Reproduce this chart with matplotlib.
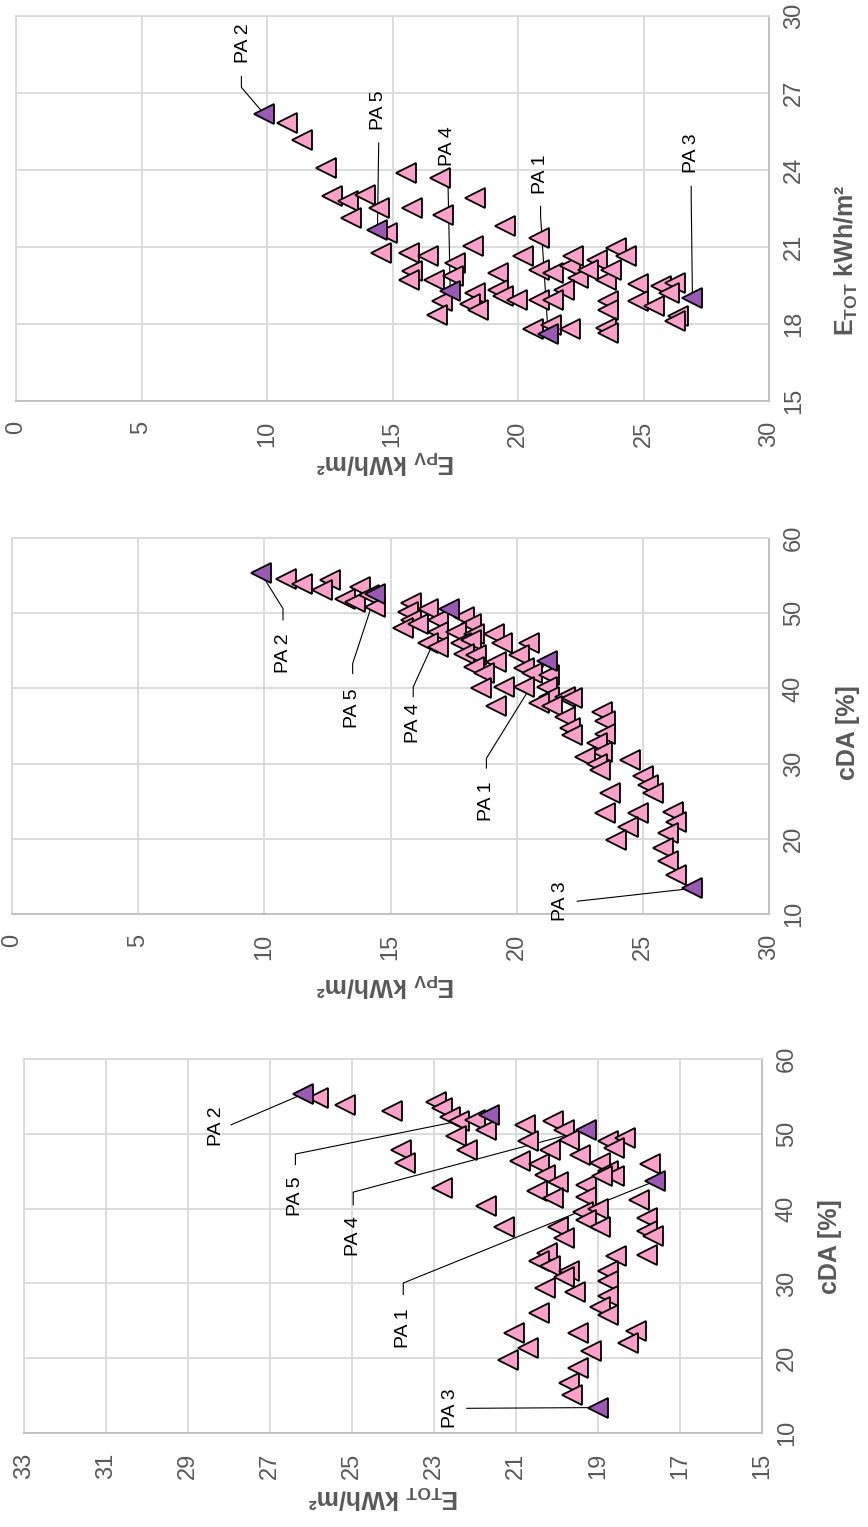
import matplotlib
matplotlib.use("Agg")
import matplotlib.pyplot as plt

# ---- data ----
pa_names = ["PA 1", "PA 2", "PA 3", "PA 4", "PA 5"]
pa_cda = [43.7, 55.3, 13.4, 50.5, 52.5]
pa_etot = [17.6, 26.2, 19.0, 19.3, 21.67]
pa_epv = [21.2, 9.87, 26.95, 17.3, 14.4]

# panel 1: E_TOT vs cDA
p1_etot = [25.84, 25.17, 24.02, 22.94, 22.8, 22.6, 22.4, 22.0, 21.73, 22.47, 22.2, 23.8,
           23.7, 22.8, 21.73, 21.3, 20.78, 20.1, 19.83, 20.7, 19.7, 20.17, 19.43, 18.76,
           18.35, 18.6, 20.9, 20.44, 20.3, 19.97, 18.96, 18.76, 18.6, 17.74, 20.5, 20.1,
           19.3, 19.3, 18.9, 18.0, 19.36, 19.0, 19.3, 18.96, 17.8, 17.8, 17.67, 19.97,
           19.83, 17.8, 18.55, 20.24, 20.44, 20.17, 19.7, 19.83, 19.56, 20.3, 18.76, 18.76,
           18.76, 18.96, 18.76, 20.44, 21.05, 20.7, 21.2, 19.5, 19.16, 19.5, 19.7, 19.63,
           18.08, 18.28]
p1_cda = [54.8, 53.8, 53.1, 54.3, 53.4, 52.3, 51.7, 51.9, 50.55, 49.66, 47.9, 47.9,
          46.1, 42.75, 40.3, 37.6, 51.2, 51.7, 50.55, 49.0, 49.2, 47.9, 47.2, 49.0,
          49.4, 48.1, 46.4, 45.9, 44.5, 43.6, 46.1, 45.0, 44.3, 45.9, 42.3, 41.4,
          43.2, 41.6, 44.3, 41.2, 39.6, 39.9, 38.5, 37.6, 38.7, 37.0, 36.3, 37.6,
          36.1, 33.8, 33.6, 34.1, 32.95, 32.3, 31.6, 30.9, 28.9, 29.4, 31.6, 30.3,
          28.3, 26.9, 25.8, 26.0, 23.4, 21.4, 19.8, 23.4, 20.9, 18.7, 16.7, 15.1,
          23.6, 22.0]

# panel 2: E_PV vs cDA
p2_epv = [10.85, 11.5, 12.6, 12.3, 13.8, 13.2, 13.6, 14.15, 14.4, 15.8, 15.7, 16.5,
          15.8, 15.5, 16.1, 16.9, 16.9, 17.9, 18.2, 17.6, 18.3, 16.5, 16.9, 17.8,
          18.2, 19.1, 19.4, 20.5, 17.9, 18.4, 19.2, 20.1, 18.3, 18.7, 20.3, 20.6,
          21.3, 19.5, 18.6, 20.3, 21.2, 21.3, 21.9, 22.2, 20.9, 21.4, 19.2, 21.9,
          23.4, 23.5, 22.1, 22.2, 23.5, 23.2, 23.4, 22.7, 23.2, 23.3, 24.5, 25.0,
          25.2, 25.4, 23.7, 23.5, 24.8, 24.4, 23.95, 26.2, 26.3, 26.0, 25.8, 26.0,
          26.3]
p2_cda = [54.6, 53.9, 54.4, 53.05, 53.5, 51.9, 51.5, 52.4, 50.8, 51.3, 50.2, 50.6,
          49.1, 48.0, 48.6, 49.1, 47.5, 49.5, 48.6, 47.5, 47.3, 46.0, 45.5, 46.0,
          46.4, 47.3, 46.0, 46.0, 44.6, 44.4, 43.5, 44.4, 42.9, 42.0, 42.7, 42.0,
          41.8, 40.2, 40.0, 40.2, 40.2, 38.9, 38.9, 38.7, 38.0, 37.6, 37.6, 36.2,
          36.9, 35.6, 34.7, 33.8, 34.0, 32.7, 31.6, 30.9, 30.0, 29.2, 30.5, 28.3,
          27.2, 26.1, 26.1, 23.4, 23.4, 21.6, 19.9, 23.6, 22.3, 20.75, 18.8, 17.0,
          15.2]

# panel 3: E_PV vs E_TOT
p3_epv = [10.8, 11.4, 12.35, 15.55, 16.9, 12.57, 13.24, 13.9, 14.45, 15.77, 17.0, 18.3,
          13.35, 14.8, 14.56, 19.5, 20.85, 18.2, 15.66, 16.4, 15.77, 15.66, 16.65, 17.5,
          17.4, 16.98, 16.76, 18.3, 18.09, 18.4, 19.2, 19.2, 19.4, 19.96, 20.2, 20.85,
          21.4, 22.06, 22.2, 22.4, 21.85, 20.85, 21.4, 20.6, 21.3, 22.06, 23.15, 23.9,
          23.5, 23.7, 24.3, 22.8, 23.6, 23.6, 23.5, 23.6, 24.8, 24.8, 25.4, 25.7,
          26.25, 26.0, 26.36, 26.25]
p3_etot = [25.85, 25.18, 24.07, 23.88, 23.69, 22.97, 22.78, 23.04, 22.52, 22.52, 22.26, 22.9,
           22.13, 21.55, 20.77, 21.8, 21.35, 21.03, 20.77, 20.64, 20.06, 19.73, 19.73, 20.38,
           19.86, 18.89, 18.37, 19.21, 18.76, 18.56, 19.99, 19.34, 19.08, 18.95, 20.64, 20.12,
           19.99, 20.25, 20.64, 19.8, 19.34, 18.95, 18.95, 17.79, 17.98, 17.79, 20.51, 20.96,
           19.73, 20.12, 20.64, 20.12, 18.89, 18.56, 17.85, 17.66, 19.54, 18.89, 18.69, 19.47,
           19.6, 19.21, 18.3, 18.11]

# leader-line label positions (label x, label y, elbow points) per panel
p1_labels = [(23.75, 24.0, [23.75, 23.75], [28.5, 30.05]),
             (28.3, 51.0, [27.95], [51.2]),
             (22.6, 13.3, [22.2], [13.3]),
             (24.97, 36.3, [24.97, 24.97], [40.5, 42.2]),
             (26.38, 41.6, [26.38, 26.38], [45.9, 47.3])]
p2_labels = [(18.8, 25.0, [18.8, 18.8], [29.4, 30.7]),
             (10.74, 44.65, [10.74, 10.74], [49.1, 50.6]),
             (21.75, 11.7, [22.4], [11.7]),
             (15.9, 35.35, [15.9, 15.9], [38.9, 40.2]),
             (13.5, 37.35, [13.5, 13.5], [42.0, 43.3])]
p3_labels = [(20.9, 23.82, [20.9, 20.9], [22.58, 22.2]),
             (9.05, 28.94, [8.98, 8.98], [27.64, 27.22]),
             (26.9, 24.66, [26.9, 26.9], [23.36, 22.97]),
             (17.2, 24.92, [17.2], [24.0]),
             (14.45, 26.34, [14.45], [25.05])]

PINK = "#FBA0C8"
PURPLE = "#9B59B6"
GRID = "#D9D9D9"
AXIS = "#BFBFBF"
TXT = "#595959"

plt.rcParams["font.family"] = ["Liberation Sans", "DejaVu Sans"]
plt.rcParams["mathtext.fontset"] = "custom"
plt.rcParams["mathtext.rm"] = "Liberation Sans"
plt.rcParams["mathtext.bf"] = "Liberation Sans:bold"

W, H = 868, 1527
fig = plt.figure(figsize=(W / 100, H / 100), dpi=100)


def add_axes(left, top, right, bottom):
    return fig.add_axes([left / W, 1 - bottom / H, (right - left) / W, (bottom - top) / H])


def style(ax, xlim, xticks, ylim, yticks):
    ax.set_xlim(*xlim)
    ax.set_ylim(*ylim)
    ax.set_xticks(xticks)
    ax.set_yticks(yticks)
    ax.grid(True, color=GRID, lw=1.3)
    ax.set_axisbelow(True)
    for side in ["top", "left"]:
        ax.spines[side].set_color(GRID)
        ax.spines[side].set_linewidth(1.3)
    for side in ["right", "bottom"]:
        ax.spines[side].set_color(AXIS)
        ax.spines[side].set_linewidth(1.3)
    ax.yaxis.tick_right()
    ax.tick_params(length=0, labelsize=17, labelcolor=TXT)
    ax.tick_params(axis="x", pad=14, labelrotation=90)
    ax.tick_params(axis="y", pad=10, labelrotation=90)
    for lab in ax.get_yticklabels():
        lab.set_va("center")


def draw(ax, xs, ys, pax, pay, labels):
    for (name, (tx, ty, ex, ey), px, py) in zip(pa_names, labels, pax, pay):
        ax.plot([*ex, px], [*ey, py], color="black", lw=0.8, zorder=2)
        ax.text(tx, ty, name, rotation=90, ha="center", va="center",
                fontsize=14, color="black", zorder=5)
    ax.plot(xs, ys, ls="none", marker="<", ms=15, mfc=PINK, mec="black",
            mew=1.3, zorder=3)
    ax.plot(pax, pay, ls="none", marker="<", ms=15, mfc=PURPLE, mec="black",
            mew=1.3, zorder=4)


etot_label = r"$\mathbf{E_{TOT}}$ kWh/m²"
epv_label = r"$\mathbf{E_{PV}}$ kWh/m²"

# top panel
ax3 = add_axes(16, 16, 769, 401)
style(ax3, (0, 30), range(0, 31, 5), (15, 30), range(15, 31, 3))
draw(ax3, p3_epv, p3_etot, pa_epv, pa_etot, p3_labels)
fig.text(385 / W, 1 - 462 / H, epv_label, rotation=180, ha="center", va="center",
         fontsize=18, fontweight="bold", color=TXT)
fig.text(846 / W, 1 - 260 / H, etot_label, rotation=90, ha="center", va="center",
         fontsize=18, fontweight="bold", color=TXT)

# middle panel
ax2 = add_axes(12, 538, 769, 914)
style(ax2, (0, 30), range(0, 31, 5), (10, 60), range(10, 61, 10))
draw(ax2, p2_epv, p2_cda, pa_epv, pa_cda, p2_labels)
fig.text(385 / W, 1 - 985 / H, epv_label, rotation=180, ha="center", va="center",
         fontsize=18, fontweight="bold", color=TXT)
fig.text(848 / W, 1 - 733 / H, "cDA [%]", rotation=90, ha="center", va="center",
         fontsize=18, fontweight="bold", color=TXT)

# bottom panel
ax1 = add_axes(24, 1059, 762, 1433)
style(ax1, (33, 15), range(15, 34, 2), (10, 60), range(10, 61, 10))
draw(ax1, p1_etot, p1_cda, pa_etot, pa_cda, p1_labels)
fig.text(383 / W, 1 - 1497 / H, etot_label, rotation=180, ha="center", va="center",
         fontsize=18, fontweight="bold", color=TXT)
fig.text(830 / W, 1 - 1247 / H, "cDA [%]", rotation=90, ha="center", va="center",
         fontsize=18, fontweight="bold", color=TXT)

fig.savefig("out.png", dpi=100, facecolor="white")
